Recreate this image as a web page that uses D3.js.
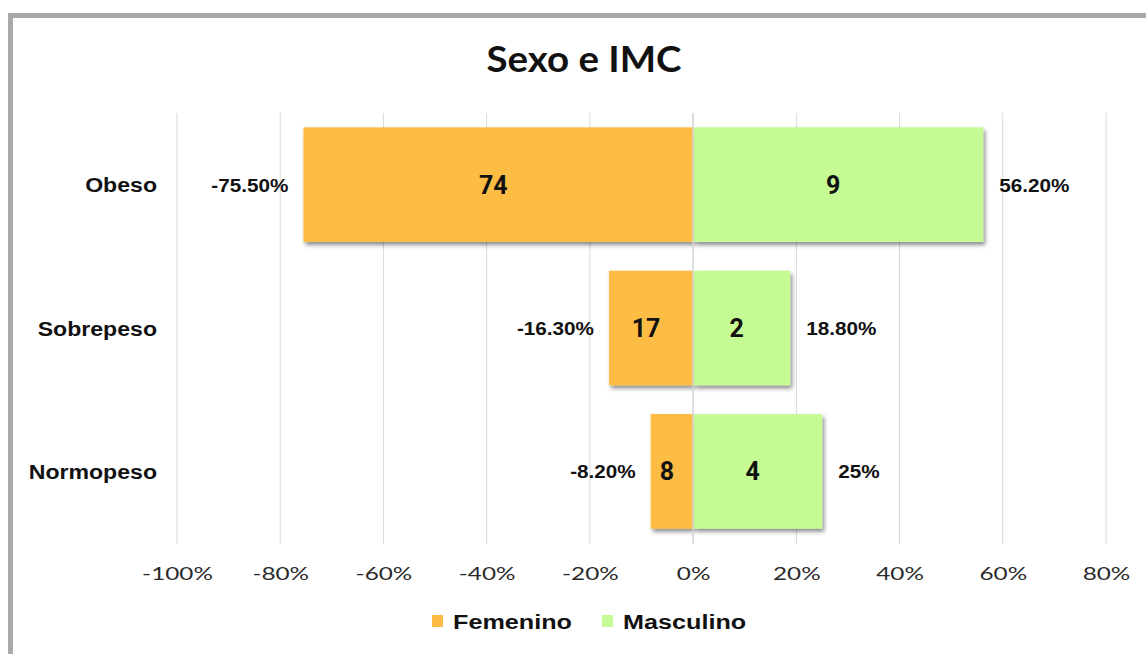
<!DOCTYPE html>
<html>
<head>
<meta charset="utf-8">
<script src="https://cdn.jsdelivr.net/npm/d3@7"></script>
<style>
	body { margin: 0; background: #fff; }
	svg { display: block; }
</style>
</head>
<body>
<div id="chart"></div>
<script>
var categories = ["Obeso", "Sobrepeso", "Normopeso"]
var femeninoPct = [-75.5, -16.3, -8.2]
var masculinoPct = [56.2, 18.8, 25]
var femeninoCount = [74, 17, 8]
var masculinoCount = [9, 2, 4]
var femeninoLabels = ["-75.50%", "-16.30%", "-8.20%"]
var masculinoLabels = ["56.20%", "18.80%", "25%"]
var ticks = [-100, -80, -60, -40, -20, 0, 20, 40, 60, 80]
var seriesNames = ["Femenino", "Masculino"]

;(() => run())()

function run() {
	var w = 1146
	var h = 654
	var orange = "#fdbd45"
	var green = "#c6fa94"

	var svg = d3.select("#chart")
		.append("svg")
		.attr("width", w)
		.attr("height", h)

	// drop shadow like the spreadsheet one
	var defs = svg.append("defs")
	defs.append("filter")
		.attr("id", "shadow")
		.attr("x", "-10%").attr("y", "-10%")
		.attr("width", "130%").attr("height", "130%")
		.append("feDropShadow")
		.attr("dx", 2).attr("dy", 3)
		.attr("stdDeviation", 2)
		.attr("flood-color", "#000")
		.attr("flood-opacity", 0.45)

	// frame
	svg.append("rect")
		.attr("x", 10.5).attr("y", 15.5)
		.attr("width", w + 20).attr("height", h + 20)
		.attr("fill", "none")
		.attr("stroke", "#a9a9a9")
		.attr("stroke-width", 5)

	var x = d3.scaleLinear()
		.domain([-100, 80])
		.range([177, 1106])

	var y = d3.scaleBand()
		.domain(categories)
		.range([113, 543])
		.paddingInner(0.2)
		.paddingOuter(0.1)

	// helper: place text and stretch it a bit sideways, the original font is wide
	var place = (px, py, sx) => "translate(" + px + "," + py + ") scale(" + sx + ",1)"

	// title
	svg.append("text")
		.attr("transform", place(584, 72, 1.04))
		.attr("text-anchor", "middle")
		.style("font-family", "Lato, sans-serif")
		.style("font-weight", "bold")
		.style("font-size", "37px")
		.style("fill", "#111")
		.text("Sexo e IMC")

	// gridlines
	svg.append("g")
		.selectAll("line")
		.data(ticks)
		.enter()
		.append("line")
		.attr("x1", d => x(d)).attr("x2", d => x(d))
		.attr("y1", 113).attr("y2", 544)
		.attr("stroke", "#d9d9d9")
		.attr("stroke-width", 1)

	// x axis labels
	var xAxis = d3.axisBottom(x)
		.tickValues(ticks)
		.tickSize(0)
		.tickPadding(0)
		.tickFormat(d => d + "%")

	var gx = svg.append("g")
		.attr("transform", "translate(0, 580)")
		.call(xAxis)
	gx.select(".domain").remove()
	gx.selectAll("text")
		.attr("y", 0)
		.attr("dy", 0)
		.attr("transform", "scale(1.35, 1)")
		.style("font-family", "Lato, sans-serif")
		.style("font-size", "18px")
		.style("fill", "#2a2a2a")

	// bars
	var bars = svg.append("g").attr("filter", "url(#shadow)")

	bars.selectAll("rect.fem")
		.data(femeninoPct)
		.enter()
		.append("rect")
		.attr("class", "fem")
		.attr("x", d => x(d))
		.attr("y", (d, i) => y(categories[i]))
		.attr("width", d => x(0) - x(d))
		.attr("height", y.bandwidth())
		.attr("fill", orange)

	bars.selectAll("rect.mas")
		.data(masculinoPct)
		.enter()
		.append("rect")
		.attr("class", "mas")
		.attr("x", x(0) + 1)
		.attr("y", (d, i) => y(categories[i]))
		.attr("width", d => x(d) - x(0) - 1)
		.attr("height", y.bandwidth())
		.attr("fill", green)

	// zero line
	svg.append("line")
		.attr("x1", x(0)).attr("x2", x(0))
		.attr("y1", 113).attr("y2", 544)
		.attr("stroke", "#d9d9d9")
		.attr("stroke-width", 1.5)

	var mid = i => y(categories[i]) + y.bandwidth() / 2

	// counts inside bars
	var countStyle = sel => sel
		.attr("text-anchor", "middle")
		.attr("dx", -5)
		.attr("dy", "0.36em")
		.style("font-family", "Roboto, sans-serif")
		.style("font-weight", "bold")
		.style("font-size", "25px")
		.style("fill", "#111")

	svg.append("g").selectAll("text")
		.data(femeninoCount)
		.enter()
		.append("text")
		.attr("x", (d, i) => (x(femeninoPct[i]) + x(0)) / 2)
		.attr("y", (d, i) => mid(i))
		.call(countStyle)
		.text(d => d)

	svg.append("g").selectAll("text")
		.data(masculinoCount)
		.enter()
		.append("text")
		.attr("x", (d, i) => (x(masculinoPct[i]) + x(0)) / 2)
		.attr("y", (d, i) => mid(i))
		.call(countStyle)
		.text(d => d)

	// percentage labels outside the bars
	var pctStyle = sel => sel
		.attr("dy", "0.36em")
		.style("font-family", "'Liberation Sans', Arial, sans-serif")
		.style("font-weight", "bold")
		.style("font-size", "19px")
		.style("fill", "#111")

	svg.append("g").selectAll("text")
		.data(femeninoLabels)
		.enter()
		.append("text")
		.attr("transform", (d, i) => place(x(femeninoPct[i]) - 15, mid(i), 1.09))
		.attr("text-anchor", "end")
		.call(pctStyle)
		.text(d => d)

	svg.append("g").selectAll("text")
		.data(masculinoLabels)
		.enter()
		.append("text")
		.attr("transform", (d, i) => place(x(masculinoPct[i]) + 16, mid(i), 1.09))
		.call(pctStyle)
		.text(d => d)

	// category labels
	svg.append("g").selectAll("text")
		.data(categories)
		.enter()
		.append("text")
		.attr("transform", d => place(157, y(d) + y.bandwidth() / 2, 1.1))
		.attr("dy", "0.36em")
		.attr("text-anchor", "end")
		.style("font-family", "'Liberation Sans', Arial, sans-serif")
		.style("font-weight", "bold")
		.style("font-size", "21px")
		.style("fill", "#111")
		.text(d => d)

	// legend
	var legendX = [432, 602]
	var legendColors = [orange, green]
	var legend = svg.append("g")
		.selectAll("g")
		.data(seriesNames)
		.enter()
		.append("g")
		.attr("transform", (d, i) => "translate(" + legendX[i] + ", 621)")

	legend.append("rect")
		.attr("x", 0).attr("y", -6)
		.attr("width", 11).attr("height", 12)
		.attr("fill", (d, i) => legendColors[i])

	legend.append("text")
		.attr("transform", place(21, 0, 1.2))
		.attr("dy", "0.36em")
		.style("font-family", "'Liberation Sans', Arial, sans-serif")
		.style("font-weight", "bold")
		.style("font-size", "21px")
		.style("fill", "#111")
		.text(d => d)
}
</script>
</body>
</html>
